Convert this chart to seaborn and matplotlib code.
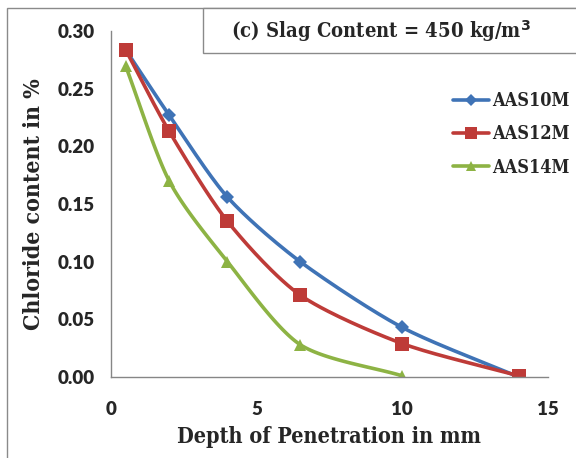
import numpy as np
import pandas as pd
import matplotlib
matplotlib.use("Agg")
import matplotlib.pyplot as plt
import seaborn as sns
from matplotlib.patches import Rectangle

depth_10 = [0.5, 2, 4, 6.5, 10, 14]
aas10m = [0.284, 0.227, 0.156, 0.100, 0.043, 0.000]
depth_12 = [0.5, 2, 4, 6.5, 10, 14]
aas12m = [0.284, 0.213, 0.135, 0.071, 0.029, 0.001]
depth_14 = [0.5, 2, 4, 6.5, 10]
aas14m = [0.270, 0.170, 0.100, 0.028, 0.001]

series = ["AAS10M", "AAS12M", "AAS14M"]
colors = ["#3F73B6", "#BE3B38", "#8DB344"]
markers = ["D", "s", "^"]
msizes = [7, 10, 9]
xticks = [0, 5, 10, 15]
yticks = [0.00, 0.05, 0.10, 0.15, 0.20, 0.25, 0.30]


def smooth(x, y, n=30):
    # Catmull-Rom style smoothing (like spreadsheet smoothed lines)
    x = np.asarray(x, float); y = np.asarray(y, float)
    px = np.concatenate([[2 * x[0] - x[1]], x, [2 * x[-1] - x[-2]]])
    py = np.concatenate([[2 * y[0] - y[1]], y, [2 * y[-1] - y[-2]]])
    xs, ys = [], []
    for i in range(1, len(px) - 2):
        t = np.linspace(0, 1, n)
        for arr, out in ((px, xs), (py, ys)):
            p0, p1, p2, p3 = arr[i - 1], arr[i], arr[i + 1], arr[i + 2]
            m1 = (p2 - p0) / 2 * 0.8
            m2 = (p3 - p1) / 2 * 0.8
            h00 = 2 * t**3 - 3 * t**2 + 1
            h10 = t**3 - 2 * t**2 + t
            h01 = -2 * t**3 + 3 * t**2
            h11 = t**3 - t**2
            out.extend(h00 * p1 + h10 * m1 + h01 * p2 + h11 * m2)
    return np.array(xs), np.array(ys)


sns.set_style("white")
plt.rcParams["font.family"] = ["DejaVu Sans"]
SERIF = "DejaVu Serif"

fig = plt.figure(figsize=(5.76, 4.58), dpi=100)
ax = fig.add_axes([0.1927, 0.1769, 0.951 - 0.1927, 0.932 - 0.1769])

data = [(depth_10, aas10m), (depth_12, aas12m), (depth_14, aas14m)]
for (x, y), name, c, m, ms in zip(data, series, colors, markers, msizes):
    sx, sy = smooth(x, y)
    sdf = pd.DataFrame({"x": sx, "y": sy})
    sns.lineplot(data=sdf, x="x", y="y", ax=ax, color=c, lw=2.6, sort=False,
                 estimator=None, legend=False)
    df = pd.DataFrame({"x": x, "y": y})
    sns.lineplot(data=df, x="x", y="y", ax=ax, color=c, lw=0, marker=m,
                 markersize=ms, markeredgewidth=0, estimator=None, legend=False)
    ax.plot([], [], color=c, lw=2.6, marker=m, markersize=ms * 0.85,
            markeredgewidth=0, label=name)

ax.set_xlim(0, 15)
ax.set_ylim(0, 0.30)
ax.set_xticks(xticks)
ax.set_yticks(yticks)
ax.set_xticklabels([str(v) for v in xticks])
ax.set_yticklabels([f"{v:.2f}" for v in yticks])
for sp in ["top", "right"]:
    ax.spines[sp].set_visible(False)
for sp in ["left", "bottom"]:
    ax.spines[sp].set_color("#868686")
    ax.spines[sp].set_linewidth(1.0)
ax.tick_params(axis="both", which="major", length=5, width=1, color="#868686",
               direction="out", labelsize=13.5, pad=7)
for lab in ax.get_xticklabels() + ax.get_yticklabels():
    lab.set_fontweight("heavy")
    lab.set_fontfamily("Lato")
ax.tick_params(axis="x", pad=12)

ax.set_xlabel("Depth of Penetration in mm", fontsize=15.5, fontweight="bold",
              family=SERIF, fontstretch="condensed", labelpad=6)
ax.set_ylabel("Chloride content in %", fontsize=16.5, fontweight="bold",
              family=SERIF, fontstretch="condensed", labelpad=9)

leg = ax.legend(loc="upper left", bbox_to_anchor=(0.766, 0.845), frameon=False,
                prop={"family": SERIF, "weight": "bold", "size": 13,
                      "stretch": "condensed"},
                handlelength=2.0, handletextpad=0.2, labelspacing=0.85,
                borderaxespad=0)

# outer border
fig.patches.append(Rectangle((7 / 576, -0.01), 1.0, 1 - 8 / 458 + 0.01,
                             transform=fig.transFigure, fill=False,
                             edgecolor="#8a8a8a", lw=1.0))
# title box
fig.patches.append(Rectangle((203 / 576, 1 - 53 / 458), 1.0, 45 / 458,
                             transform=fig.transFigure, facecolor="white",
                             edgecolor="#8a8a8a", lw=1.0, zorder=5))
fig.text(381 / 576, 1 - 31 / 458, r"(c) Slag Content = 450 kg/m$^\mathbf{3}$",
         ha="center", va="center", fontsize=14.5, fontweight="bold",
         family=SERIF, fontstretch="condensed", zorder=6)

fig.savefig("out.png", dpi=100)
